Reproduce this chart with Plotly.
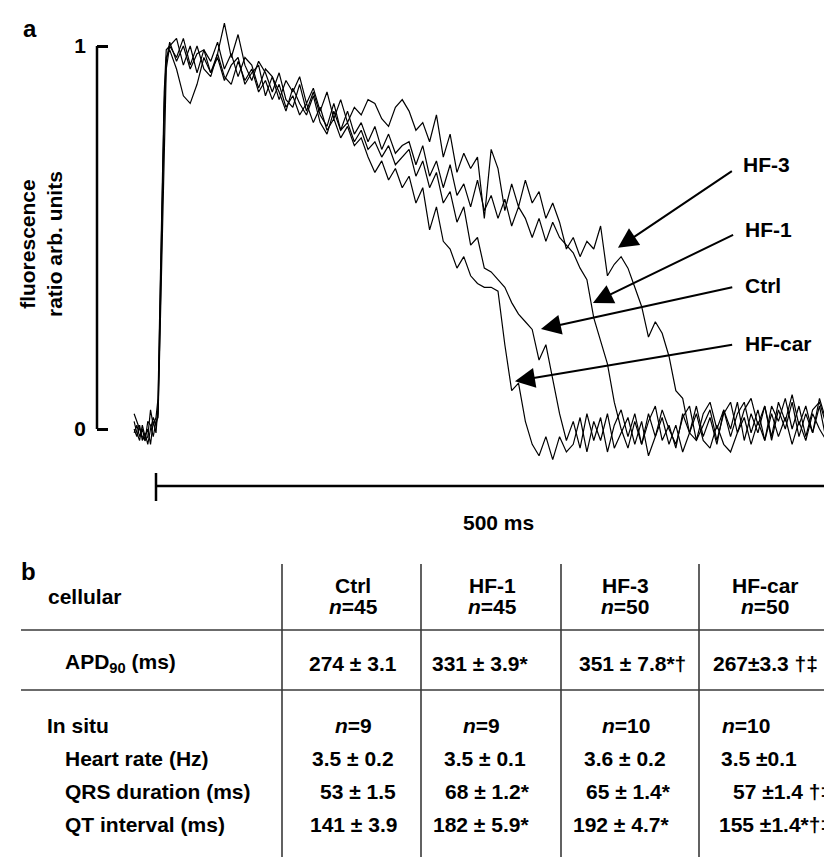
import plotly.graph_objects as go

# ---------------- data: time grid (ms) and normalized fluorescence ----------------
T = [-16, -14, -12, -10, -8, -6, -4, -2, 0, 1.5, 3, 4.5, 6, 7.5,
     10, 15, 20, 25, 30, 35, 40, 45, 50, 55, 60, 65, 70, 75, 80, 85, 90, 95, 100,
     105, 110, 115, 120, 125, 130, 135, 140, 145, 150, 155, 160, 165, 170, 175, 180,
     185, 190, 195, 200, 205, 210, 215, 220, 225, 230, 235, 240, 245, 250, 255, 260,
     265, 270, 275, 280, 285, 290, 295, 300, 305, 310, 315, 320, 325, 330, 335, 340,
     345, 350, 355, 360, 365, 370, 375, 380, 385, 390, 395, 400, 405, 410, 415, 420,
     425, 430, 435, 440, 445, 450, 455, 460, 465, 470, 475, 480, 485, 490, 495, 500]

CTRL = [0.00, -0.02, 0.01, -0.03, -0.01, -0.04, 0.00, 0.03, 0.01,
        0.04, 0.28, 0.55, 0.82, 0.96,
        1.01, 0.96, 1.00, 0.94, 0.98,
        0.99, 0.93, 0.97, 0.91, 0.95,
        0.97, 0.90, 0.93, 0.95, 0.87,
        0.92, 0.88, 0.83, 0.89, 0.85,
        0.82, 0.87, 0.80, 0.77, 0.83,
        0.78, 0.80, 0.75, 0.78, 0.73,
        0.75, 0.71, 0.74, 0.69, 0.71,
        0.73, 0.66, 0.70, 0.63, 0.67, 0.59, 0.62, 0.54, 0.58, 0.48,
        0.50, 0.42, 0.41, 0.39, 0.37, 0.33, 0.30, 0.28, 0.26, 0.18,
        0.22, 0.13, 0.04, -0.03,
        0.02, -0.05, 0.04, -0.03, 0.03, -0.06, 0.01, 0.05, -0.02, 0.04,
        -0.04, 0.02, 0.06, -0.03, 0.01, -0.05, 0.04, -0.01, 0.06, -0.02,
        0.03, -0.04, 0.05, 0.00, 0.07, -0.03, 0.04, -0.01, 0.06, -0.03,
        0.05, 0.00, 0.07, -0.02, 0.04, -0.01, 0.06, -0.03, 0.03, 0.01]

HF_CAR = [0.02, -0.01, -0.03, 0.01, -0.02, 0.00, -0.04, 0.02, -0.01,
          0.06, 0.33, 0.60, 0.85, 0.97,
          0.99, 0.94, 0.87, 0.85, 0.90,
          0.97, 0.93, 0.98, 0.92, 0.90,
          0.96, 0.91, 0.94, 0.88, 0.91,
          0.86, 0.90, 0.84, 0.87, 0.82,
          0.85, 0.80, 0.84, 0.78, 0.81,
          0.76, 0.79, 0.74, 0.76, 0.71,
          0.67, 0.70, 0.65, 0.68, 0.63,
          0.66, 0.59, 0.63, 0.52, 0.58, 0.49, 0.47, 0.42, 0.45, 0.40,
          0.38, 0.37, 0.37, 0.36, 0.22, 0.10, 0.12, 0.02, -0.04, -0.07,
          -0.02, -0.08, -0.02, -0.06,
          -0.04, 0.03, -0.06, 0.02, -0.03, 0.04, -0.05, -0.01, 0.03, -0.04,
          0.02, -0.07, -0.02, 0.03, -0.04, 0.01, -0.06, -0.01, 0.04, -0.03,
          -0.05, 0.01, -0.04, -0.06, -0.01, 0.03, -0.04, 0.02, -0.03, 0.04,
          -0.02, 0.03, -0.04, 0.02, -0.03, 0.04, 0.00, -0.03, 0.03, -0.01]

HF_1 = [-0.01, 0.01, -0.02, 0.00, -0.03, 0.02, 0.01, -0.02, 0.02,
        0.03, 0.25, 0.50, 0.78, 0.94,
        1.00, 0.97, 1.02, 0.95, 1.00,
        0.94, 0.92, 0.98, 1.06, 0.97,
        1.03, 0.95, 0.91, 0.96, 0.93,
        0.88, 0.93, 0.86, 0.84, 0.90,
        0.83, 0.88, 0.82, 0.79, 0.85,
        0.78, 0.83, 0.77, 0.80, 0.75,
        0.79, 0.73, 0.77, 0.72, 0.74,
        0.75, 0.69, 0.74, 0.66, 0.70, 0.63, 0.69, 0.61, 0.64, 0.58,
        0.65, 0.57, 0.61, 0.55, 0.60, 0.53, 0.58, 0.55, 0.50, 0.55,
        0.49, 0.54, 0.50, 0.48,
        0.46, 0.42, 0.39, 0.29, 0.23, 0.17, 0.07, 0.00,
        -0.05, 0.02, -0.04, 0.04, -0.02, 0.05, 0.00, -0.04, 0.03, 0.06,
        -0.03, 0.04, 0.07, 0.00, 0.05, -0.02, 0.04, 0.07, -0.01, 0.05,
        -0.03, 0.06, 0.02, 0.08, 0.00, 0.06, -0.02, 0.05, 0.07, 0.01,
        0.06, 0.03]

HF_3 = [0.04, 0.02, 0.00, -0.02, -0.03, -0.02, 0.05, 0.01, 0.03,
        0.08, 0.36, 0.64, 0.88, 0.99,
        1.00, 1.02, 0.95, 1.00, 0.93,
        0.99, 0.96, 1.01, 0.94, 0.98,
        0.92, 0.97, 0.95, 0.89, 0.94,
        0.92, 0.86, 0.91, 0.88, 0.92,
        0.85, 0.89, 0.83, 0.88, 0.81,
        0.86, 0.80, 0.84, 0.82, 0.86,
        0.85, 0.81, 0.79, 0.84, 0.86,
        0.83, 0.78, 0.80, 0.75, 0.82, 0.71, 0.77, 0.67, 0.72, 0.68,
        0.71, 0.55, 0.73, 0.68, 0.57, 0.64, 0.58, 0.65, 0.59, 0.62,
        0.55, 0.59, 0.54, 0.47,
        0.50, 0.45, 0.49, 0.47, 0.53, 0.40, 0.43, 0.45, 0.42, 0.37,
        0.32, 0.24, 0.28, 0.25, 0.19, 0.10, 0.08, -0.01, -0.03, 0.01,
        0.05, -0.03, 0.04, 0.07, -0.01, 0.05, 0.08, 0.01, 0.06, -0.02,
        0.07, 0.02, 0.09, 0.01, 0.06, -0.01, 0.08, 0.02, 0.07, 0.02]

TRACE_NAMES = ["Ctrl", "HF-1", "HF-3", "HF-car"]
TRACES = [CTRL, HF_1, HF_3, HF_CAR]

Y_TICKS = [0, 1]
Y_TICK_TEXT = ["0", "1"]
SCALE_BAR_MS = 500

# arrow tips (data coords: ms, normalized units) for each label
ARROW_TIP_T = [281.4, 319.4, 337.7, 262.4]
ARROW_TIP_Y = [0.261, 0.329, 0.473, 0.125]

# ---------------- table data ----------------
COLS = ["Ctrl", "HF-1", "HF-3", "HF-car"]
CELL_N = ["45", "45", "50", "50"]
INSITU_N = ["9", "9", "10", "10"]
APD90 = ["274 ± 3.1", "331 ± 3.9*", "351 ± 7.8*†", "267±3.3 †‡"]
HEART_RATE = ["3.5 ± 0.2", "3.5 ± 0.1", "3.6 ± 0.2", "3.5 ±0.1"]
QRS = ["53 ± 1.5", "68 ± 1.2*", "65 ± 1.4*", "57 ±1.4 †‡"]
QT = ["141 ± 3.9", "182 ± 5.9*", "192 ± 4.7*", "155 ±1.4*†‡"]

# ---------------- layout helpers ----------------
W, H = 832, 857
FONT = "Liberation Sans, Arial, Helvetica, sans-serif"
FS = 21

# plot area mapping (pixels): t=0 at x=148, 1.368 px/ms; y=0 at 421, y=1 at 38
X0_PX, PX_PER_MS = 148, 1.368
Y0_PX, PX_PER_UNIT = 421, 383


def px(x):
    return x / W


def py(y):
    return 1 - y / H


fig = go.Figure()
for name, vals in zip(TRACE_NAMES, TRACES):
    fig.add_trace(go.Scatter(x=T, y=vals, mode="lines", name=name,
                             line=dict(color="black", width=1.2),
                             hoverinfo="skip"))

x_lo = (89 - X0_PX) / PX_PER_MS
x_hi = (832 - X0_PX) / PX_PER_MS
y_lo, y_hi = -0.1, 1.08
fig.update_layout(
    width=W, height=H, margin=dict(l=0, r=0, t=0, b=0),
    paper_bgcolor="white", plot_bgcolor="white", showlegend=False,
    font=dict(family=FONT, color="black", size=FS),
)
fig.update_xaxes(domain=[px(89), 1], range=[x_lo, x_hi], visible=False)
fig.update_yaxes(domain=[py(Y0_PX - y_lo * PX_PER_UNIT), py(Y0_PX - y_hi * PX_PER_UNIT)],
                 range=[y_lo, y_hi],
                 tickvals=Y_TICKS, ticktext=[f"<b>{t}</b>" for t in Y_TICK_TEXT],
                 ticks="inside", ticklen=11, tickwidth=2.5, tickcolor="black",
                 showgrid=False, zeroline=False, showline=False,
                 tickfont=dict(size=FS), ticklabelstandoff=10)

shapes = []
# y bracket
shapes.append(dict(type="line", xref="x domain", x0=0, x1=0, yref="y", y0=0, y1=1,
                   line=dict(color="black", width=2.5)))
# time scale bar
shapes.append(dict(type="line", xref="x", x0=0, x1=SCALE_BAR_MS, yref="paper",
                   y0=py(478), y1=py(478), line=dict(color="black", width=2.5)))
shapes.append(dict(type="line", xref="x", x0=0, x1=0, yref="paper",
                   y0=py(465), y1=py(493), line=dict(color="black", width=2.5)))

# table lines
for yy in [622, 682]:
    shapes.append(dict(type="line", xref="paper", yref="paper", x0=px(13), x1=1,
                       y0=py(yy), y1=py(yy), line=dict(color="#3a3a3a", width=1.6)))
for xx in [274, 413, 553, 691]:
    shapes.append(dict(type="line", xref="paper", yref="paper", x0=px(xx), x1=px(xx),
                       y0=py(556), y1=0, line=dict(color="#3a3a3a", width=1.6)))

ann = []


def text(x, y, s, size=FS, anchor="center"):
    ann.append(dict(x=px(x), y=py(y), xref="paper", yref="paper", text=s,
                    showarrow=False, xanchor=anchor, yanchor="middle",
                    font=dict(size=size, family=FONT, color="black")))


text(22, 20, "<b>a</b>", 24)
ann.append(dict(x=px(33), y=py(236), xref="paper", yref="paper",
                xanchor="center", yanchor="middle",
                text="<b>fluorescence<br>ratio arb. units</b>", textangle=-90,
                showarrow=False, font=dict(size=FS, family=FONT, color="black")))
ann.append(dict(x=SCALE_BAR_MS / 2, y=py(514), xref="x", yref="paper",
                xanchor="center", yanchor="middle",
                text=f"<b>{SCALE_BAR_MS} ms</b>", showarrow=False,
                font=dict(size=FS, family=FONT, color="black")))

# labelled arrows
LABEL_POS = [(735, 277), (735, 222), (733, 157), (735, 335)]
for name, tt, yy, (lx, ly) in zip(TRACE_NAMES, ARROW_TIP_T, ARROW_TIP_Y, LABEL_POS):
    tip_x = X0_PX + tt * PX_PER_MS
    tip_y = Y0_PX - yy * PX_PER_UNIT
    ann.append(dict(x=tt, y=yy, xref="x", yref="y",
                    ax=lx - tip_x, ay=ly - tip_y, axref="pixel", ayref="pixel",
                    text=f"<b>{name}</b>", xanchor="left", yanchor="middle",
                    font=dict(size=FS, family=FONT, color="black"),
                    showarrow=True, arrowhead=2, arrowsize=2.0, arrowwidth=2,
                    arrowcolor="black", standoff=0, startstandoff=11))

# panel b
text(20, 563, "<b>b</b>", 24)
HEAD_X = [345, 484, 617, 757]
for c, n, x in zip(COLS, CELL_N, HEAD_X):
    text(x, 577, f"<b>{c}</b>")
    text(x, 598, f"<b><i>n</i>={n}</b>")

text(38, 588, "<b>cellular</b>", anchor="left")
text(55, 655, "<b>APD<sub>90</sub> (ms)</b>", anchor="left")
text(37, 717, "<b>In situ</b>", anchor="left")
text(55, 750, "<b>Heart rate (Hz)</b>", anchor="left")
text(55, 783, "<b>QRS duration (ms)</b>", anchor="left")
text(55, 816, "<b>QT interval (ms)</b>", anchor="left")

ROW_Y = [655, 717, 750, 783, 816]
ROW_X = [[345, 472, 624, 757],
         [345, 473, 618, 738],
         [345, 477, 617, 751],
         [350, 479, 620, 774],
         [345, 473, 613, 767]]
rows = [APD90, [f"<i>n</i>={n}" for n in INSITU_N], HEART_RATE, QRS, QT]
for vals, yy, xs in zip(rows, ROW_Y, ROW_X):
    for v, xx in zip(vals, xs):
        text(xx, yy, f"<b>{v}</b>")

fig.update_layout(shapes=shapes, annotations=ann)
fig.write_html("out.html")
